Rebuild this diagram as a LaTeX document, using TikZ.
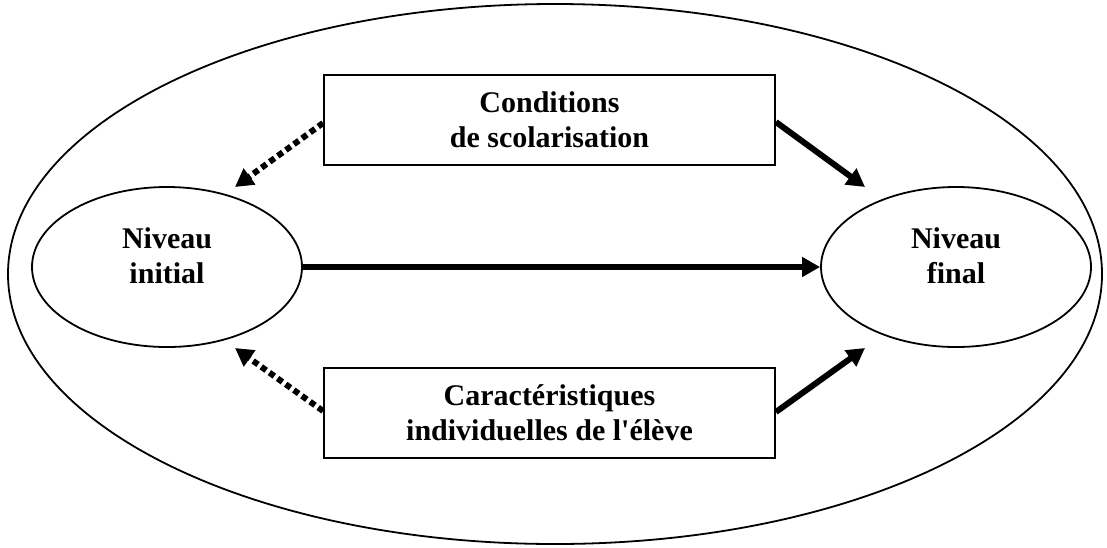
\documentclass[tikz,border=0pt]{standalone}
\usepackage{fontspec}
\setmainfont{Liberation Serif}
\newfontfamily\schemafont{Liberation Serif}
\usetikzlibrary{arrows.meta,shapes.geometric}

\tikzset{
  niveau/.style={draw,line width=0.9pt,ellipse,minimum width=135pt,minimum height=80pt,inner sep=0pt},
  facteur/.style={draw,line width=0.9pt,rectangle,minimum width=225.5pt,minimum height=45pt,inner sep=0pt},
  libelle/.style={align=center,font=\schemafont\fontsize{15}{17.5}\selectfont\bfseries},
  effet/.style={line width=3pt,-{Triangle[length=9pt,width=9.5pt]}},
  effetpot/.style={effet,dash pattern=on 3pt off 2pt}
}

\begin{document}
\begin{tikzpicture}[x=0.5pt,y=-0.5pt]
      \useasboundingbox (0,0) rectangle (1107,547);
      \draw[line width=0.9pt] (555,274) ellipse [x radius=547, y radius=270];
      \node[niveau] (init) at (167,267) {};
      \node[niveau] (fin) at (956,267) {};
      \node[facteur] (cond) at (549.5,120) {};
      \node[facteur] (carac) at (549.5,413) {};
      \node[libelle] (tinit) at (167,256) {Niveau\\initial};
      \node[libelle] (tfin) at (956,256) {Niveau\\final};
      \node[libelle] (tcond) at (549.5,120) {Conditions\\de scolarisation};
      \node[libelle] (tcarac) at (549.5,413) {Caractéristiques\\individuelles de l'élève};
      % extremites des fleches
      \coordinate (initH) at (235,187);
      \coordinate (initB) at (235,348);
      \coordinate (finH) at (865,187);
      \coordinate (finB) at (865,348);
      \draw[effet] (init.east) -- (fin.west);
      \draw[effetpot] ([yshift=-1.5pt]cond.west) -- (initH);
      \draw[effet] ([yshift=-1pt]cond.east) -- (finH);
      \draw[effetpot] ([yshift=1pt]carac.west) -- (initB);
      \draw[effet] ([yshift=0.5pt]carac.east) -- (finB);
\end{tikzpicture}
\end{document}
